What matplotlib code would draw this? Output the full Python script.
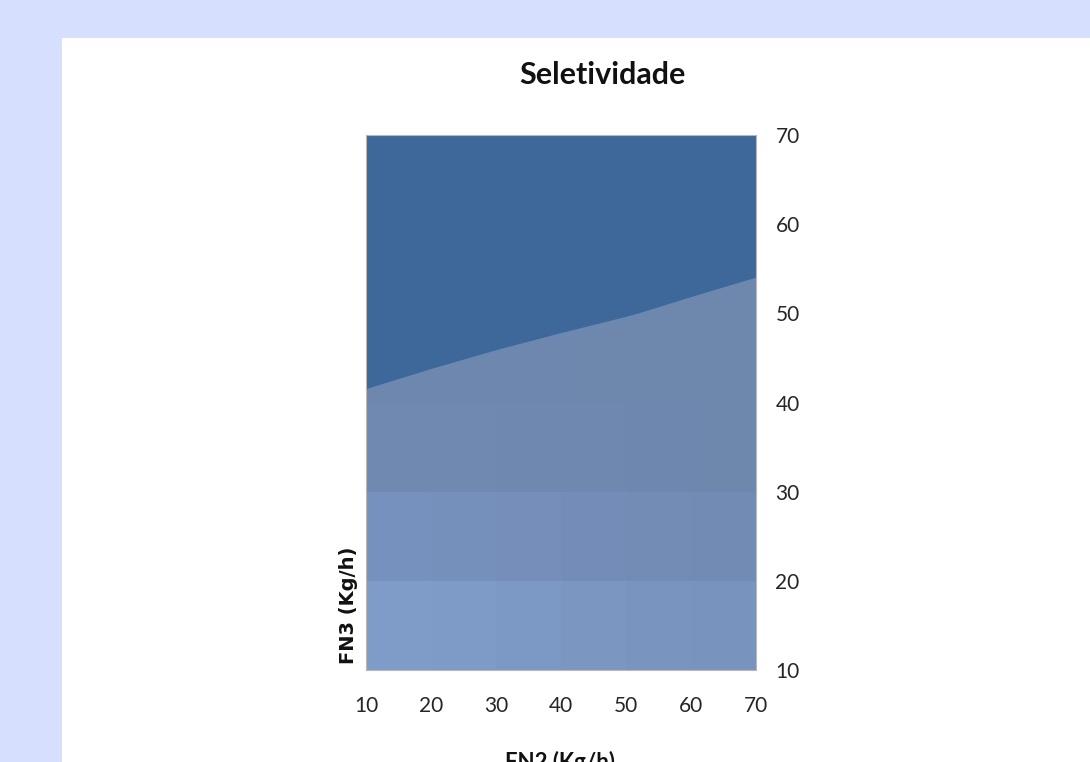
import numpy as np
import matplotlib.pyplot as plt
from matplotlib.patches import Patch, Rectangle
from matplotlib import colors as mcolors

# FN2 (x) and FN3 (y) grid, Kg/h
fn2 = [10, 20, 30, 40, 50, 60, 70]
fn3 = [10, 20, 30, 40, 50, 60, 70]

# selectivity surface, rows = FN3, columns = FN2
selet = [
    [0.35, 0.33, 0.31, 0.30, 0.29, 0.28, 0.27],
    [0.55, 0.52, 0.49, 0.47, 0.45, 0.44, 0.43],
    [0.75, 0.70, 0.66, 0.63, 0.61, 0.59, 0.57],
    [0.94, 0.88, 0.83, 0.79, 0.76, 0.74, 0.72],
    [1.34, 1.20, 1.12, 1.06, 1.01, 0.96, 0.92],
    [1.60, 1.45, 1.35, 1.28, 1.22, 1.18, 1.12],
    [1.80, 1.65, 1.55, 1.47, 1.40, 1.35, 1.30],
]
band_levels = [0.0, 0.5, 1.0, 1.5]
band_labels = ['0-0,5', '0,5-1', '1-1,5']

fnt = ['Lato', 'DejaVu Sans']
col_light = '#7f9dca'
col_mid = '#4f7cb8'
col_dark = '#3e6899'

fig = plt.figure(figsize=(10.9, 7.62), dpi=100, facecolor='#d6e0fe')
fig.patches.append(Rectangle((62 / 1090, 0), 1, 1 - 38 / 762, transform=fig.transFigure,
                             facecolor='white', edgecolor='none', zorder=-5))

ax = fig.add_axes([366 / 1090, 1 - 670 / 762, 390 / 1090, 535 / 762])

# surface cell shading: (left colour, right colour) for each row of cells
row_cols = [('#7f9cc8', '#7893bd'), ('#7791be', '#728bb4'), ('#6f89b1', '#6e87ad'),
            ('#6e87ae', '#6e87ad'), ('#6e87ae', '#6e87ad'), ('#6e87ae', '#6e87ad')]
shade = np.zeros((6, 6, 3))
for i, (cl, cr) in enumerate(row_cols):
    a = np.array(mcolors.to_rgb(cl))
    b = np.array(mcolors.to_rgb(cr))
    for j in range(6):
        shade[i, j] = a + (b - a) * j / 5
X, Y = np.meshgrid(fn2, fn3)
ax.pcolormesh(X, Y, shade, shading='flat', edgecolors='none', zorder=1)

Z = np.array(selet)
ax.contourf(X, Y, Z, levels=[band_levels[2], 2.0], colors=[col_dark], antialiased=True, zorder=2)

ax.set_xlim(10, 70)
ax.set_ylim(10, 70)
ax.set_xticks(fn2)
ax.set_yticks(fn3)
ax.yaxis.tick_right()
ax.tick_params(axis='both', length=0, labelsize=15, colors='#262626')
ax.tick_params(axis='x', pad=19)
ax.tick_params(axis='y', pad=14)
for lab in ax.get_xticklabels() + ax.get_yticklabels():
    lab.set_family(fnt)
for s in ax.spines.values():
    s.set_color('#b8b8b8')
    s.set_linewidth(0.8)

fig.text(602 / 1090, 1 - 75 / 762, 'Seletividade', ha='center', va='center',
         fontsize=22, fontweight='bold', family=fnt, color='#111111')
fig.text(349 / 1090, 1 - 664 / 762, 'FN3 (Kg/h)', rotation=90, ha='center', va='bottom',
         fontsize=14, fontweight='bold', color='#111111')
fig.text(560 / 1090, 1 - 751 / 762, 'FN2 (Kg/h)', ha='center', va='top',
         fontsize=16, fontweight='bold', family=fnt, color='#111111')

handles = [Patch(facecolor=c, edgecolor='none') for c in [col_light, col_mid, col_dark]]
fig.legend(handles, band_labels, loc='upper left', bbox_to_anchor=(1084 / 1090, 1 - 400 / 762),
           frameon=False, handlelength=0.7, handleheight=0.7, handletextpad=0.4,
           labelspacing=1.45, borderaxespad=0, prop={'family': fnt, 'size': 14})

fig.savefig('out.png', dpi=100, facecolor=fig.get_facecolor())
